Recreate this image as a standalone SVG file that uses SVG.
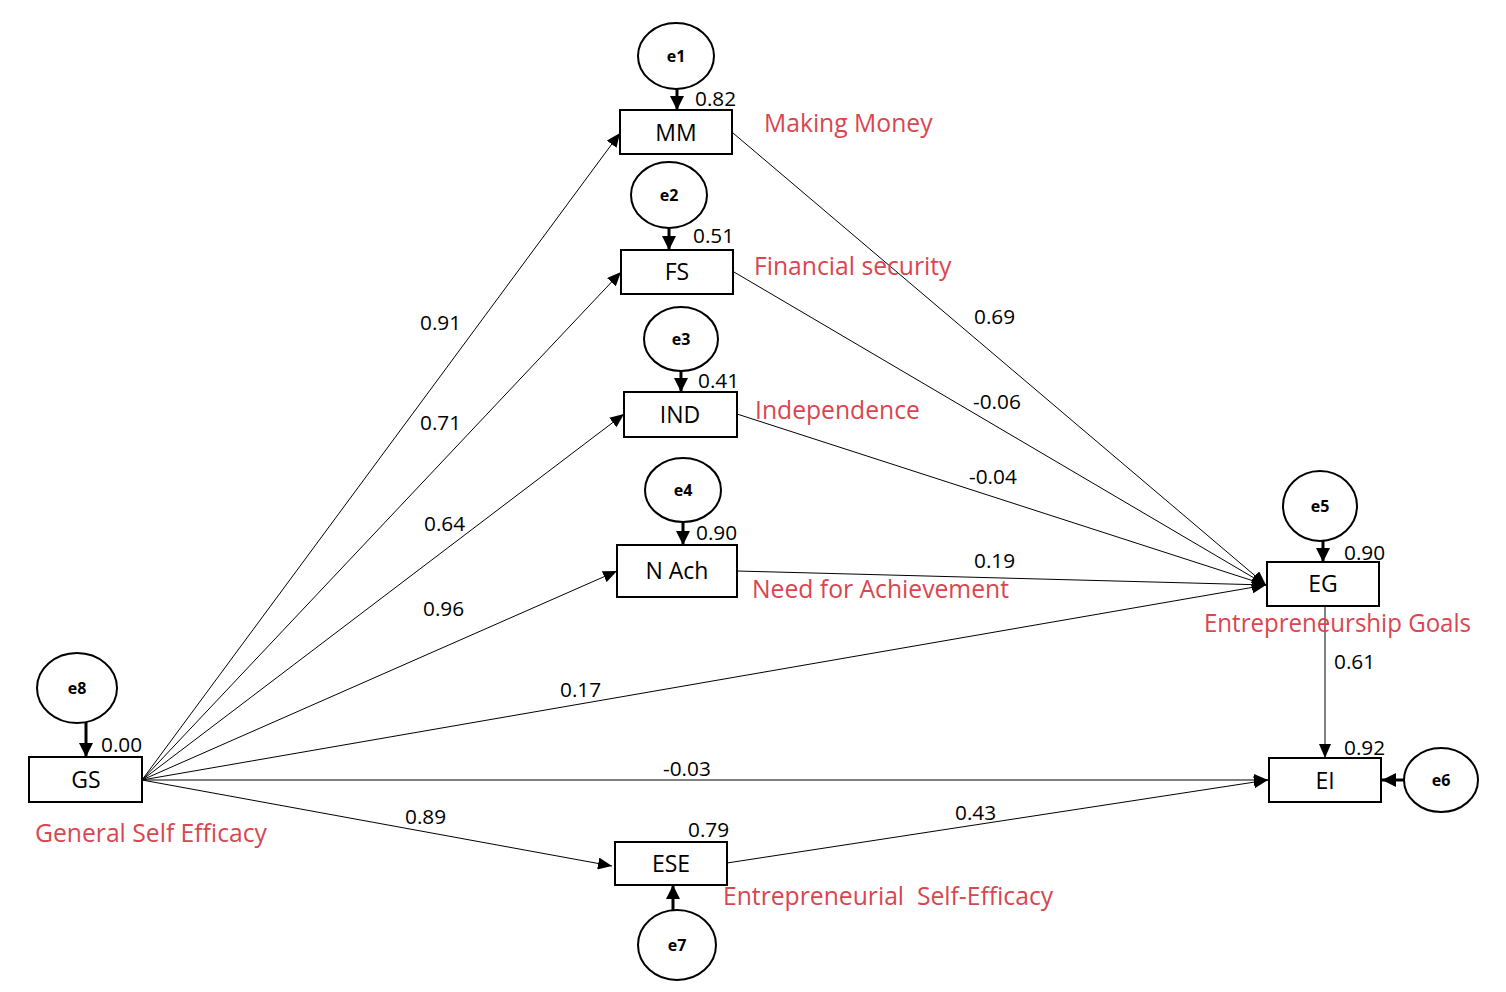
<svg xmlns="http://www.w3.org/2000/svg" width="1506" height="992" viewBox="0 0 1506 992">
<defs>
<marker id="arr" markerUnits="userSpaceOnUse" markerWidth="14" markerHeight="12" viewBox="0 0 14 12" refX="14" refY="6" orient="auto">
<path d="M0,0 L14,6 L0,12 Z" fill="#000"/>
</marker>
<marker id="arrE" markerUnits="userSpaceOnUse" markerWidth="14" markerHeight="14" viewBox="0 0 14 14" refX="14" refY="7" orient="auto">
<path d="M0,0 L14,7 L0,14 Z" fill="#000"/>
</marker>
</defs>
<style>
.box{fill:#fff;stroke:#000;stroke-width:2}
.err{fill:#fff;stroke:#000;stroke-width:2}
.edge{fill:none;stroke:#000;stroke-width:1;marker-end:url(#arr)}
.eedge{fill:none;stroke:#000;stroke-width:3;marker-end:url(#arrE)}
.nl{font-family:"Open Sans","Noto Sans",sans-serif;font-size:23px;fill:#000;text-anchor:middle}
.el{font-family:"Open Sans","Noto Sans",sans-serif;font-size:16px;font-weight:bold;fill:#000;text-anchor:middle}
.num{font-family:"Open Sans","Noto Sans",sans-serif;font-size:20.8px;fill:#000}
.red{font-family:"Open Sans","Noto Sans",sans-serif;font-size:24.7px;fill:#d9464f}
</style>
<rect width="1506" height="992" fill="#fff"/>
<g id="connectors">
<line class="edge" x1="142" y1="780" x2="620" y2="133"/>
<line class="edge" x1="142" y1="780" x2="621" y2="272"/>
<line class="edge" x1="142" y1="780" x2="624" y2="414"/>
<line class="edge" x1="142" y1="780" x2="617" y2="571"/>
<line class="edge" x1="142" y1="780" x2="1266" y2="585"/>
<line class="edge" x1="142" y1="780" x2="1268" y2="780"/>
<line class="edge" x1="142" y1="780" x2="612" y2="866"/>
<line class="edge" x1="733" y1="133" x2="1266" y2="585"/>
<line class="edge" x1="734" y1="272" x2="1266" y2="585"/>
<line class="edge" x1="737" y1="414" x2="1266" y2="585"/>
<line class="edge" x1="737" y1="571" x2="1266" y2="585"/>
<line class="edge" x1="727" y1="863" x2="1268" y2="780"/>
<line class="edge" x1="1325" y1="606" x2="1325" y2="758"/>
<line class="eedge" x1="677" y1="89" x2="677" y2="110"/>
<line class="eedge" x1="669" y1="228" x2="669" y2="250"/>
<line class="eedge" x1="681" y1="371" x2="681" y2="392"/>
<line class="eedge" x1="683" y1="522" x2="683" y2="545"/>
<line class="eedge" x1="1323" y1="541" x2="1323" y2="562"/>
<line class="eedge" x1="1404" y1="780" x2="1382" y2="780"/>
<line class="eedge" x1="86" y1="722" x2="86" y2="757"/>
<line class="eedge" x1="673" y1="910" x2="673" y2="885"/>
<text class="num" x="420" y="330">0.91</text>
<text class="num" x="420" y="430">0.71</text>
<text class="num" x="424" y="531">0.64</text>
<text class="num" x="423" y="616">0.96</text>
<text class="num" x="560" y="697">0.17</text>
<text class="num" x="663" y="776">-0.03</text>
<text class="num" x="405" y="824">0.89</text>
<text class="num" x="974" y="324">0.69</text>
<text class="num" x="973" y="409">-0.06</text>
<text class="num" x="969" y="484">-0.04</text>
<text class="num" x="974" y="568">0.19</text>
<text class="num" x="955" y="820">0.43</text>
<text class="num" x="1334" y="669">0.61</text>
</g>
<g id="MM">
<rect class="box" x="620" y="110" width="112" height="44"/>
<text class="nl" x="676" y="141">MM</text>
<text class="num" x="695" y="106">0.82</text>
<text class="red" x="764" y="132">Making Money</text>
</g>
<g id="e1"><ellipse class="err" cx="676" cy="56" rx="38" ry="33"/><text class="el" x="676" y="62">e1</text></g>
<g id="FS">
<rect class="box" x="621" y="250" width="112" height="44"/>
<text class="nl" x="677" y="280">FS</text>
<text class="num" x="693" y="243">0.51</text>
<text class="red" x="754" y="275">Financial security</text>
</g>
<g id="e2"><ellipse class="err" cx="669" cy="195" rx="38" ry="33"/><text class="el" x="669" y="201">e2</text></g>
<g id="IND">
<rect class="box" x="624" y="392" width="113" height="45"/>
<text class="nl" x="680" y="423">IND</text>
<text class="num" x="698" y="388">0.41</text>
<text class="red" x="755" y="419">Independence</text>
</g>
<g id="e3"><ellipse class="err" cx="681" cy="339" rx="37" ry="32"/><text class="el" x="681" y="345">e3</text></g>
<g id="NAch">
<rect class="box" x="617" y="545" width="120" height="52"/>
<text class="nl" x="677" y="579">N Ach</text>
<text class="num" x="696" y="540">0.90</text>
<text class="red" x="752" y="598">Need for Achievement</text>
</g>
<g id="e4"><ellipse class="err" cx="683" cy="490" rx="38" ry="32"/><text class="el" x="683" y="496">e4</text></g>
<g id="EG">
<rect class="box" x="1267" y="562" width="112" height="44"/>
<text class="nl" x="1323" y="592">EG</text>
<text class="num" x="1344" y="560">0.90</text>
<text class="red" x="1204" y="632" textLength="267" lengthAdjust="spacingAndGlyphs">Entrepreneurship Goals</text>
</g>
<g id="e5"><ellipse class="err" cx="1320" cy="506" rx="37" ry="35"/><text class="el" x="1320" y="512">e5</text></g>
<g id="EI">
<rect class="box" x="1269" y="758" width="112" height="44"/>
<text class="nl" x="1325" y="789">EI</text>
<text class="num" x="1344" y="755">0.92</text>
</g>
<g id="e6"><ellipse class="err" cx="1441" cy="780" rx="37" ry="32"/><text class="el" x="1441" y="786">e6</text></g>
<g id="GS">
<rect class="box" x="29" y="757" width="113" height="45"/>
<text class="nl" x="86" y="788">GS</text>
<text class="num" x="101" y="752">0.00</text>
<text class="red" x="35" y="842">General Self Efficacy</text>
</g>
<g id="e8"><ellipse class="err" cx="77" cy="688" rx="40" ry="35"/><text class="el" x="77" y="694">e8</text></g>
<g id="ESE">
<rect class="box" x="615" y="842" width="112" height="43"/>
<text class="nl" x="671" y="872">ESE</text>
<text class="num" x="688" y="837">0.79</text>
<text class="red" x="723" y="905" xml:space="preserve">Entrepreneurial  Self-Efficacy</text>
</g>
<g id="e7"><ellipse class="err" cx="677" cy="945" rx="39" ry="35"/><text class="el" x="677" y="951">e7</text></g>
</svg>
